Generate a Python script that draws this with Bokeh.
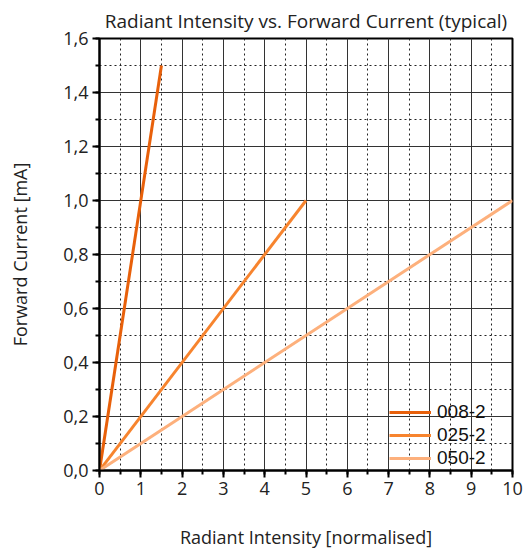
from bokeh.plotting import figure
from bokeh.models import Range1d, FixedTicker, Legend, LegendItem
from bokeh.embed import file_html
from bokeh.resources import INLINE

series_names = ["008-2", "025-2", "050-2"]
x_008 = [0, 1.5]
y_008 = [0, 1.5]
x_025 = [0, 5]
y_025 = [0, 1.0]
x_050 = [0, 10]
y_050 = [0, 1.0]
colors = ["#E8600A", "#F7842E", "#FDB07C"]
x_ticks = list(range(0, 11))
y_ticks = [0.0, 0.2, 0.4, 0.6, 0.8, 1.0, 1.2, 1.4, 1.6]
y_tick_labels = ["0,0", "0,2", "0,4", "0,6", "0,8", "1,0", "1,2", "1,4", "1,6"]

FONT = "Open Sans"

p = figure(width=525, height=552, output_backend="svg", toolbar_location=None,
           x_range=Range1d(0, 10), y_range=Range1d(0, 1.6),
           min_border_left=99, min_border_right=13, min_border_top=38, min_border_bottom=82)

p.title.text = "Radiant Intensity vs. Forward Current (typical)"
p.title.align = "center"
p.title.text_font = FONT
p.title.text_font_size = "19px"
p.title.text_font_style = "normal"
p.title.text_color = "#222222"
p.title.offset = 0
p.title.standoff = 9

p.outline_line_color = "black"
p.outline_line_width = 2
p.background_fill_color = "white"
p.border_fill_color = "white"

p.xaxis.ticker = FixedTicker(ticks=x_ticks, minor_ticks=[i * 0.5 for i in range(21)])
p.yaxis.ticker = FixedTicker(ticks=y_ticks, minor_ticks=[i * 0.1 for i in range(17)])
p.yaxis.major_label_overrides = {t: l for t, l in zip(y_ticks, y_tick_labels)}

for ax in (p.xaxis, p.yaxis):
    ax.axis_line_color = "black"
    ax.axis_line_width = 2
    ax.major_tick_line_color = "black"
    ax.major_tick_line_width = 2
    ax.minor_tick_line_color = "black"
    ax.minor_tick_line_width = 2
    ax.major_tick_in = 0
    ax.major_tick_out = 7
    ax.minor_tick_in = 0
    ax.minor_tick_out = 4
    ax.major_label_text_font = FONT
    ax.major_label_text_font_size = "18px"
    ax.major_label_text_color = "#222222"
    ax.axis_label_text_font = FONT
    ax.axis_label_text_font_size = "18px"
    ax.axis_label_text_font_style = "normal"
    ax.axis_label_text_color = "#222222"

p.xaxis.axis_label = "Radiant Intensity [normalised]"
p.yaxis.axis_label = "Forward Current [mA]"
p.xaxis.axis_label_standoff = 27
p.yaxis.axis_label_standoff = 28
p.yaxis.major_label_standoff = 4
p.xaxis.major_label_standoff = 4

for g in (p.xgrid, p.ygrid):
    g.grid_line_color = "#333333"
    g.grid_line_width = 1
    g.minor_grid_line_color = "#222222"
    g.minor_grid_line_dash = "2 3"
    g.minor_grid_line_width = 1

r1 = p.line(x_008, y_008, line_color=colors[0], line_width=3)
r2 = p.line(x_025, y_025, line_color=colors[1], line_width=3)
r3 = p.line(x_050, y_050, line_color=colors[2], line_width=3)

legend = Legend(items=[LegendItem(label=series_names[0], renderers=[r1]),
                       LegendItem(label=series_names[1], renderers=[r2]),
                       LegendItem(label=series_names[2], renderers=[r3])],
                location=(290, 1))
legend.border_line_color = None
legend.background_fill_alpha = 0
legend.label_text_font = "Liberation Sans"
legend.label_text_font_size = "19px"
legend.label_text_color = "#111111"
legend.glyph_width = 42
legend.glyph_height = 22
legend.label_height = 22
legend.spacing = 1
legend.padding = 0
legend.margin = 0
legend.label_standoff = 6
p.add_layout(legend, "center")

open("out.html", "w").write(file_html(p, INLINE))
